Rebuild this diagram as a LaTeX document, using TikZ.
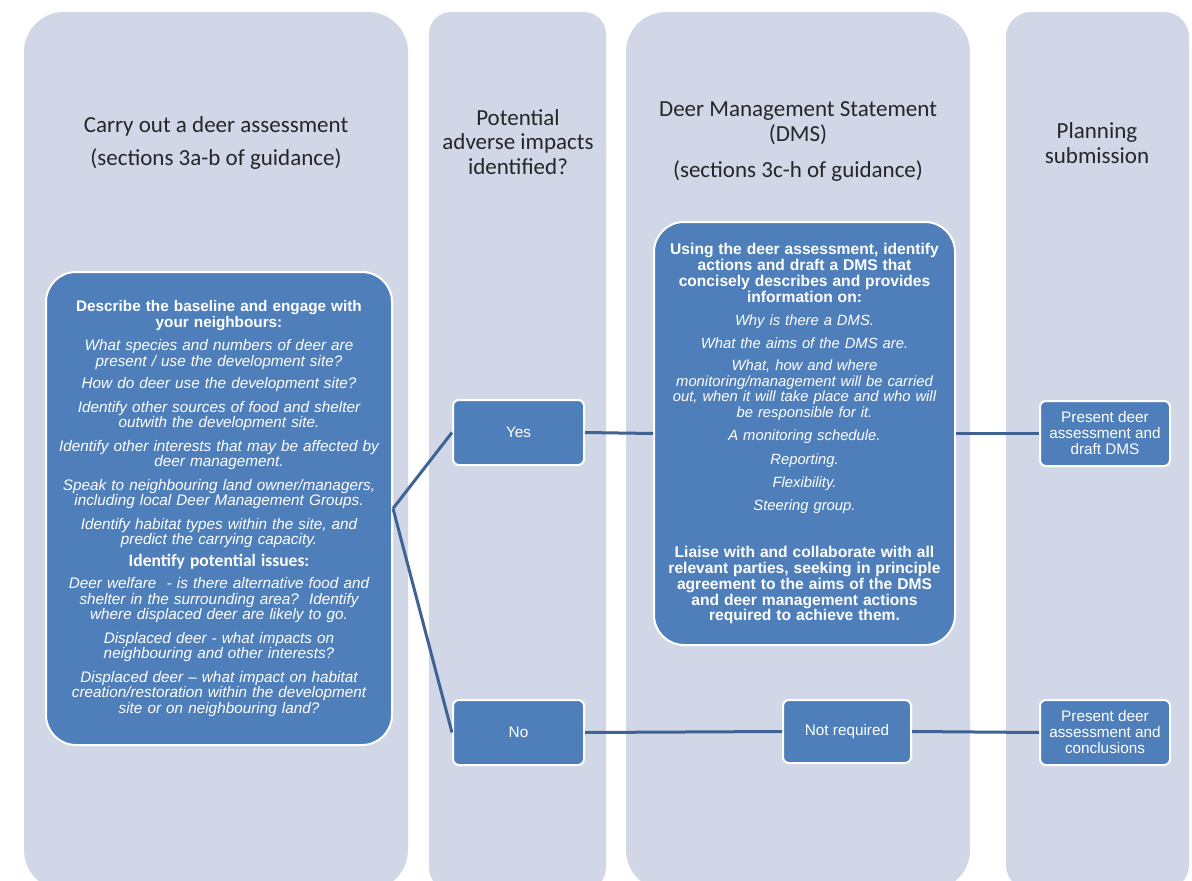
\documentclass[tikz,border=0pt]{standalone}
\usepackage{fontspec}
\setmainfont{Liberation Sans}
\newfontfamily\headfont{Carlito}
\usetikzlibrary{positioning}

\definecolor{colbg}{HTML}{D1D7E6}
\definecolor{boxblue}{HTML}{4F7FBB}
\definecolor{linkblue}{HTML}{3F6493}
\definecolor{headtext}{HTML}{262626}

\tikzset{
  column/.style={fill=colbg},
  head/.style={font=\headfont\fontsize{23}{24.5}\selectfont, text=headtext, align=center},
  bigbox/.style={draw=white, line width=2pt, fill=boxblue, rounded corners=30pt,
    text=white, align=center, font=\fontsize{15.3}{15.5}\selectfont, inner sep=0pt},
  smallbox/.style={draw=white, line width=2pt, fill=boxblue, rounded corners=6pt,
    text=white, align=center, font=\fontsize{15.3}{16}\selectfont,
    minimum width=131pt, minimum height=65pt, inner sep=2pt},
  link/.style={draw=linkblue, line width=3pt}
}

\begin{document}
\begin{tikzpicture}[x=1pt,y=-1pt]
  \useasboundingbox (0,0) rectangle (1192,881);
  \fill[white] (0,0) rectangle (1192,881);
  \begin{scope}
    \clip (0,0) rectangle (1192,881);
    \fill[column, rounded corners=40pt] (24,12) rectangle (408,890);
    \fill[column, rounded corners=22pt] (429,12) rectangle (606,890);
    \fill[column, rounded corners=40pt] (626,12) rectangle (970,890);
    \fill[column, rounded corners=25pt] (1006,12) rectangle (1189,890);
  \end{scope}

  \node[head] (assesshead) at (216,143) {Carry out a deer assessment\\[8pt](sections 3a-b of guidance)};
  \node[head] (impacthead) at (518,142) {Potential\\adverse impacts\\identified?};
  \node[head] (dmshead) at (798,142) {Deer Management Statement\\(DMS)\\[12pt](sections 3c-h of guidance)};
  \node[head] (planhead) at (1097,143) {Planning\\submission};

  \node[bigbox, minimum width=346pt, minimum height=473pt, text width=340pt] (assess) at (219,508.5) {%
    \textbf{Describe the baseline and engage with\\your neighbours:}\\[8pt]
    \textit{What species and numbers of deer are\\present / use the development site?}\\[7pt]
    \textit{How do deer use the development site?}\\[8pt]
    \textit{Identify other sources of food and shelter\\outwith the development site.}\\[8pt]
    \textit{Identify other interests that may be affected by\\deer management.}\\[8pt]
    \textit{Speak to neighbouring land owner/managers,\\including local Deer Management Groups.}\\[8pt]
    \textit{Identify habitat types within the site, and\\predict the carrying capacity.}\\[6pt]
    {\headfont\bfseries\fontsize{17.5}{15.5}\selectfont Identify potential issues:}\\[7pt]
    \textit{Deer welfare\ \ - is there alternative food and\\shelter in the surrounding area?\ \ Identify\\where displaced deer are likely to go.}\\[8pt]
    \textit{Displaced deer - what impacts on\\neighbouring and other interests?}\\[8pt]
    \textit{Displaced deer -- what impact on habitat\\creation/restoration within the development\\site or on neighbouring land?}};

  \node[bigbox, minimum width=301pt, minimum height=423pt, text width=295pt,
    font=\fontsize{14.8}{15.5}\selectfont] (dms) at (804.5,433.5) {%
    {\bfseries\fontsize{15.6}{16}\selectfont Using the deer assessment, identify\\actions and draft a DMS that\\concisely describes and provides\\information on:}\\[8pt]
    \textit{Why is there a DMS.}\\[7pt]
    \textit{What the aims of the DMS are.}\\[7pt]
    \textit{What, how and where\\monitoring/management will be carried\\out, when it will take place and who will\\be responsible for it.}\\[8pt]
    \textit{A monitoring schedule.}\\[8pt]
    \textit{Reporting.}\\[8pt]
    \textit{Flexibility.}\\[7pt]
    \textit{Steering group.}\\[31pt]
    {\bfseries\fontsize{15.6}{16}\selectfont Liaise with and collaborate with all\\relevant parties, seeking in principle\\agreement to the aims of the DMS\\and deer management actions\\required to achieve them.}};

  \node[smallbox] (yes) at (518.5,432.5) {Yes};
  \node[smallbox] (no) at (518.5,732.5) {No};
  \node[smallbox, minimum width=128pt, minimum height=63pt] (notreq) at (847,731.5) {Not required};
  \node[smallbox, minimum width=130pt] (draftdms) at (1105,433.5) {Present deer\\assessment and\\draft DMS};
  \node[smallbox, minimum width=130pt] (conclusions) at (1105,732.5) {Present deer\\assessment and\\conclusions};

  \draw[link] (assess.east) -- (yes.west);
  \draw[link] (assess.east) -- (no.west);
  \draw[link] (yes.east) -- (dms.west);
  \draw[link] (dms.east) -- (draftdms.west);
  \draw[link] (no.east) -- (notreq.west);
  \draw[link] (notreq.east) -- (conclusions.west);
\end{tikzpicture}
\end{document}
